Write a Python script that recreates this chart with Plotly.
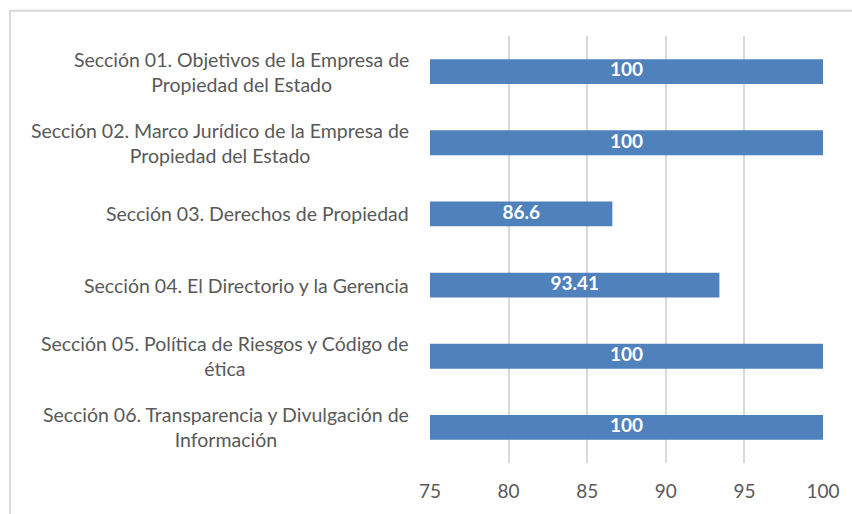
import plotly.graph_objects as go

categories = [
    "Sección 01. Objetivos de la Empresa de<br>Propiedad del Estado",
    "Sección 02. Marco Jurídico de la Empresa de<br>Propiedad del Estado",
    "Sección 03. Derechos de Propiedad",
    "Sección 04. El Directorio y la Gerencia",
    "Sección 05. Política de Riesgos y Código de<br>ética",
    "Sección 06. Transparencia y Divulgación de<br>Información",
]
values = [100, 100, 86.6, 93.41, 100, 100]
labels = ["100", "100", "86.6", "93.41", "100", "100"]
x_ticks = [75, 80, 85, 90, 95, 100]
x_min, x_max = 75, 100

FONT = "Lato"
GRAY = "#595959"

fig = go.Figure()
fig.add_trace(go.Bar(
    y=categories,
    x=values,
    orientation="h",
    marker=dict(color="#4F81BD", line=dict(width=0)),
    width=0.35,
    hoverinfo="x+y",
))
# value labels centred on the visible part of each bar
fig.add_trace(go.Scatter(
    y=categories,
    x=[(x_min + v) / 2 for v in values],
    mode="text",
    text=labels,
    textposition="middle center",
    textfont=dict(family=FONT, size=19, color="white", weight="bold"),
    hoverinfo="skip",
    cliponaxis=False,
))

for c in categories:
    fig.add_annotation(
        x=0, xref="paper", y=c, yref="y",
        text=c, showarrow=False,
        xanchor="right", yanchor="middle", align="center",
        xshift=-19,
        font=dict(family=FONT, size=19.5, color=GRAY),
    )

fig.add_shape(
    type="rect", xref="paper", yref="paper",
    x0=(10 - 430) / 393, x1=(870 - 430) / 393,
    y0=(468 - 530) / 432, y1=(468 - 10.5) / 432,
    line=dict(color="#D9D9D9", width=2), fillcolor="rgba(0,0,0,0)",
    layer="below",
)

fig.update_layout(
    width=852, height=514,
    margin=dict(l=430, r=29, t=36, b=46),
    paper_bgcolor="white", plot_bgcolor="white",
    showlegend=False,
    xaxis=dict(
        range=[x_min, x_max], tickvals=x_ticks, ticktext=[str(t) for t in x_ticks],
        showgrid=True, gridcolor="#D9D9D9", gridwidth=1.5,
        zeroline=False, showline=False,
        ticks="outside", ticklen=11, tickcolor="rgba(0,0,0,0)",
        tickfont=dict(family=FONT, size=19, color=GRAY),
    ),
    yaxis=dict(
        autorange="reversed", showticklabels=False, showgrid=False,
        zeroline=False, showline=False,
    ),
)

fig.write_html(
    "out.html",
    config={"displayModeBar": False},
    post_script="document.body.style.margin='0';document.body.style.overflow='hidden';",
)
